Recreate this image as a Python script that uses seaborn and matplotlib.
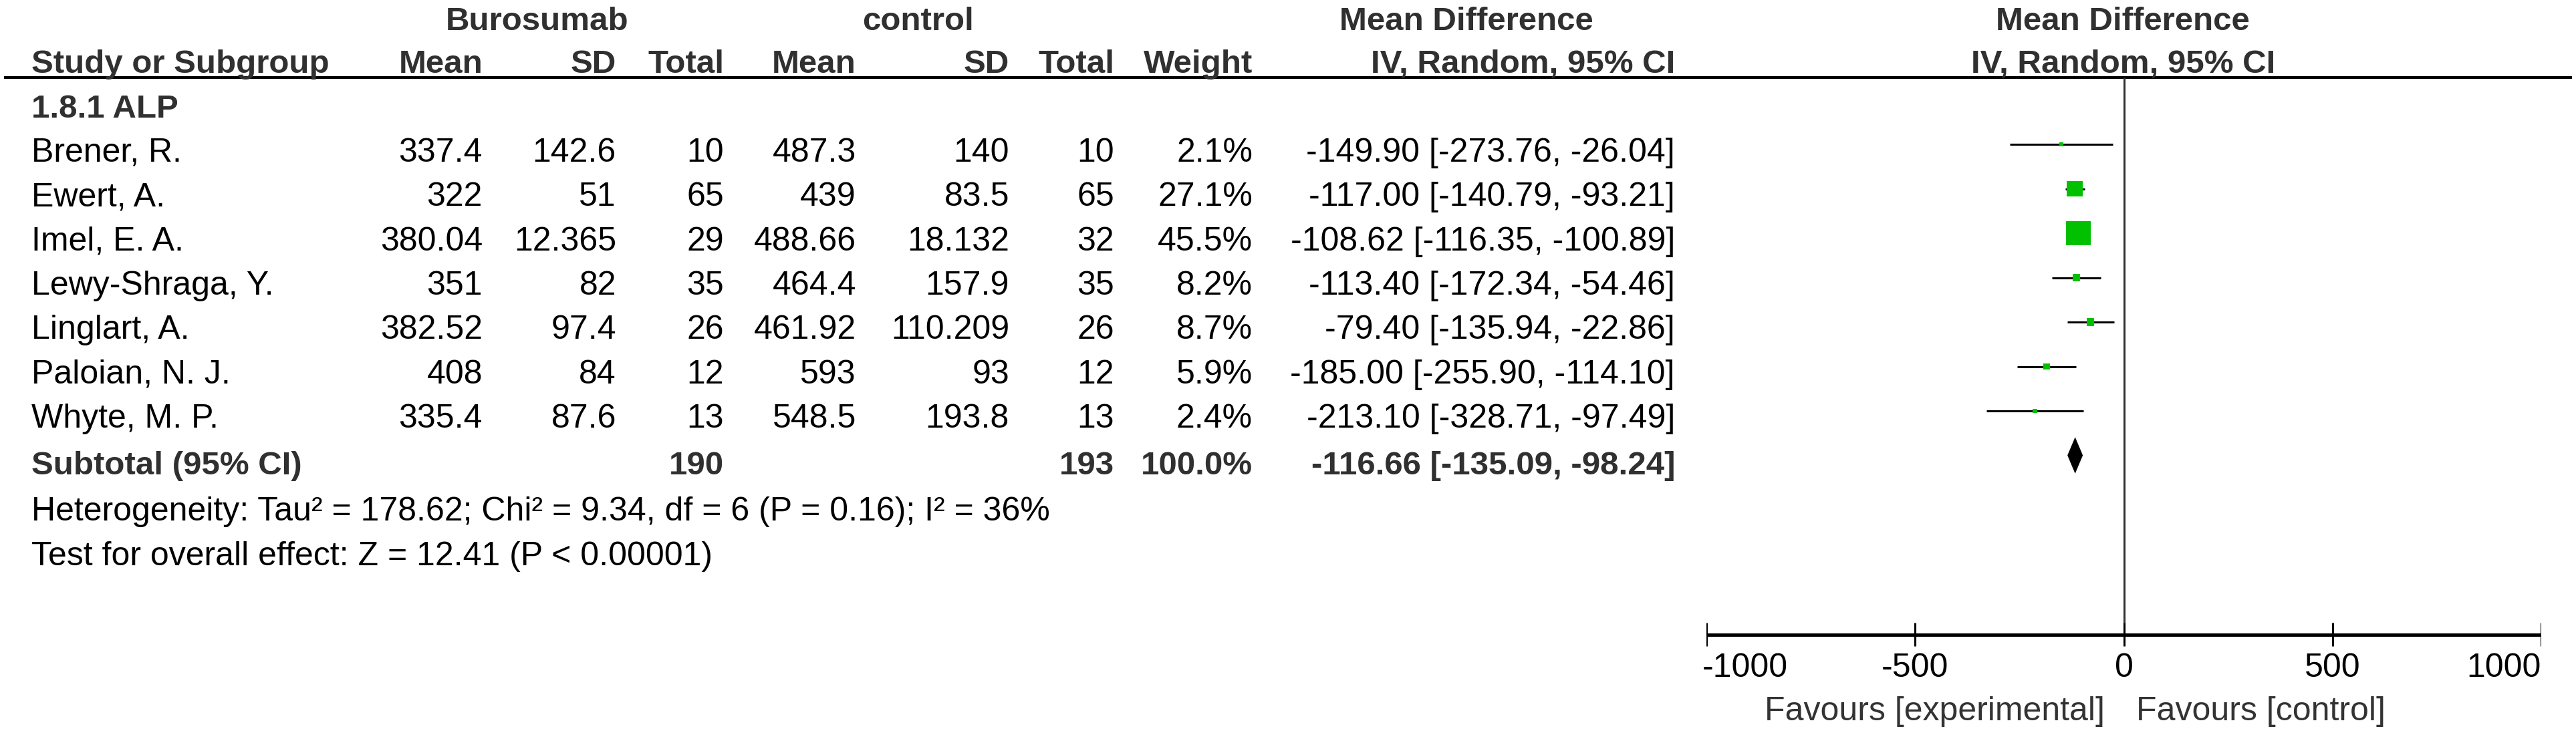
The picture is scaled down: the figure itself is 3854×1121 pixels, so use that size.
import numpy as np
import pandas as pd
import matplotlib
matplotlib.use("Agg")
import matplotlib.pyplot as plt
import seaborn as sns

# ---------------- data ----------------
subgroup_title = "1.8.1 ALP"
studies = ["Brener, R.", "Ewert, A.", "Imel, E. A.", "Lewy-Shraga, Y.",
           "Linglart, A.", "Paloian, N. J.", "Whyte, M. P."]
exp_mean = [337.4, 322, 380.04, 351, 382.52, 408, 335.4]
exp_sd = [142.6, 51, 12.365, 82, 97.4, 84, 87.6]
exp_n = [10, 65, 29, 35, 26, 12, 13]
ctl_mean = [487.3, 439, 488.66, 464.4, 461.92, 593, 548.5]
ctl_sd = [140, 83.5, 18.132, 157.9, 110.209, 93, 193.8]
ctl_n = [10, 65, 32, 35, 26, 12, 13]
weight = [2.1, 27.1, 45.5, 8.2, 8.7, 5.9, 2.4]
md = [-149.90, -117.00, -108.62, -113.40, -79.40, -185.00, -213.10]
ci_lo = [-273.76, -140.79, -116.35, -172.34, -135.94, -255.90, -328.71]
ci_hi = [-26.04, -93.21, -100.89, -54.46, -22.86, -114.10, -97.49]

sub_label = "Subtotal (95% CI)"
sub_exp_n = 190
sub_ctl_n = 193
sub_weight = 100.0
sub_md = -116.66
sub_lo = -135.09
sub_hi = -98.24

heterogeneity = "Heterogeneity: Tau² = 178.62; Chi² = 9.34, df = 6 (P = 0.16); I² = 36%"
overall = "Test for overall effect: Z = 12.41 (P < 0.00001)"

group_titles = ["Burosumab", "control", "Mean Difference", "Mean Difference"]
col_titles = ["Study or Subgroup", "Mean", "SD", "Total", "Mean", "SD", "Total",
              "Weight", "IV, Random, 95% CI", "IV, Random, 95% CI"]
xticks = [-1000, -500, 0, 500, 1000]
favours = ["Favours [experimental]", "Favours [control]"]

df = pd.DataFrame({"study": studies, "md": md, "lo": ci_lo, "hi": ci_hi,
                   "weight": weight})
df["row"] = np.arange(len(df))

# ---------------- layout ----------------
W, H, DPI = 3854, 1121, 100
plt.rcParams["font.family"] = ["Liberation Sans", "DejaVu Sans"]
FS = 36
FSB = 35.5
HDR = "#303030"

fig = plt.figure(figsize=(W / DPI, H / DPI), dpi=DPI)
fig.patch.set_facecolor("white")

bg = fig.add_axes([0, 0, 1, 1])
bg.set_xlim(0, W)
bg.set_ylim(H, 0)
bg.axis("off")

def t(x, y, s, ha="left", bold=False, color="black"):
    bg.text(x, y, s, ha=ha, va="baseline", fontsize=FSB if bold else FS,
            fontweight="bold" if bold else "normal", color=color)

# column anchors (pixels)
x_study = 47
x_cols = [722, 922, 1083, 1281, 1510, 1667, 1874, 2506]
group_x = [804, 1373, 2194, 3176]

# headers
for gx, g in zip(group_x, group_titles):
    t(gx, 45, g, ha="center", bold=True, color=HDR)
t(x_study, 109, col_titles[0], bold=True, color=HDR)
for xc, c in zip(x_cols, col_titles[1:9]):
    t(xc, 109, c, ha="right", bold=True, color=HDR)
t(3177, 109, col_titles[9], ha="center", bold=True, color=HDR)
bg.plot([6, 3848], [116, 116], color="black", lw=2.9, solid_capstyle="butt")

t(x_study, 176, subgroup_title, bold=True, color=HDR)

fmt = lambda v: "{:g}".format(v)
for i in range(len(studies)):
    yb = 242 + 66.3 * i
    t(x_study, yb, studies[i])
    vals = [fmt(exp_mean[i]), fmt(exp_sd[i]), str(exp_n[i]),
            fmt(ctl_mean[i]), fmt(ctl_sd[i]), str(ctl_n[i]),
            f"{weight[i]:.1f}%",
            f"{md[i]:.2f} [{ci_lo[i]:.2f}, {ci_hi[i]:.2f}]"]
    for xc, v in zip(x_cols, vals):
        t(xc, yb, v, ha="right")

t(x_study, 710, sub_label, bold=True, color=HDR)
t(x_cols[2], 710, str(sub_exp_n), ha="right", bold=True, color=HDR)
t(x_cols[5], 710, str(sub_ctl_n), ha="right", bold=True, color=HDR)
t(x_cols[6], 710, f"{sub_weight:.1f}%", ha="right", bold=True, color=HDR)
t(x_cols[7], 710, f"{sub_md:.2f} [{sub_lo:.2f}, {sub_hi:.2f}]", ha="right",
  bold=True, color=HDR)
t(x_study, 779, heterogeneity)
t(x_study, 846, overall)

# ---------------- forest panel ----------------
px0, px1 = 2553, 3802           # pixel span of -1000..1000
row0, rowh = 216, 66.5          # pixel y of row 0, row height
ax = fig.add_axes([px0 / W, 0, (px1 - px0) / W, 1])
ax.set_xlim(xticks[0], xticks[-1])
ax.set_ylim((H - row0) / rowh, (0 - row0) / rowh)
ax.axis("off")
ax.patch.set_alpha(0)

r_under = (116 - row0) / rowh
r_axis = (950 - row0) / rowh
r_tick_top = (932 - row0) / rowh
r_tick_bot = (967 - row0) / rowh
r_ticklab = (1013 - row0) / rowh
r_fav = (1078 - row0) / rowh

ax.vlines(0, r_under, r_axis, color="#333333", lw=2.2, zorder=1)

ax.hlines(df["row"], df["lo"], df["hi"], color="black", lw=2.2, zorder=2)
side_px = 5 + 0.7 * df["weight"].to_numpy()
sizes = (side_px * 72 / DPI) ** 2
sns.scatterplot(x=df["md"], y=df["row"], s=sizes, marker="s",
                color="#00C000", edgecolor="none", linewidth=0,
                ax=ax, zorder=3, legend=False)
ax.set_xlim(xticks[0], xticks[-1])
ax.set_ylim((H - row0) / rowh, (0 - row0) / rowh)
ax.axis("off")

r_sub = len(studies)
dh = 0.41
ax.fill([sub_lo, sub_md, sub_hi, sub_md], [r_sub, r_sub - dh, r_sub, r_sub + dh],
        color="black", lw=0, zorder=3)

# axis
ax.hlines(r_axis, xticks[0], xticks[-1], color="black", lw=3.6, zorder=2)
ax.vlines(xticks, r_tick_top, r_tick_bot, color="black", lw=2.2, zorder=2)
for k, xt in enumerate(xticks):
    ha = "left" if k == 0 else ("right" if k == len(xticks) - 1 else "center")
    xx = xt - 10 if k == 0 else xt
    ax.text(xx, r_ticklab, str(xt), ha=ha, va="baseline", fontsize=FS,
            color="black")
ax.text(-45, r_fav, favours[0], ha="right", va="baseline", fontsize=FS,
        color="#333333")
ax.text(30, r_fav, favours[1], ha="left", va="baseline", fontsize=FS,
        color="#333333")

fig.savefig("out.png", dpi=DPI, facecolor="white")
